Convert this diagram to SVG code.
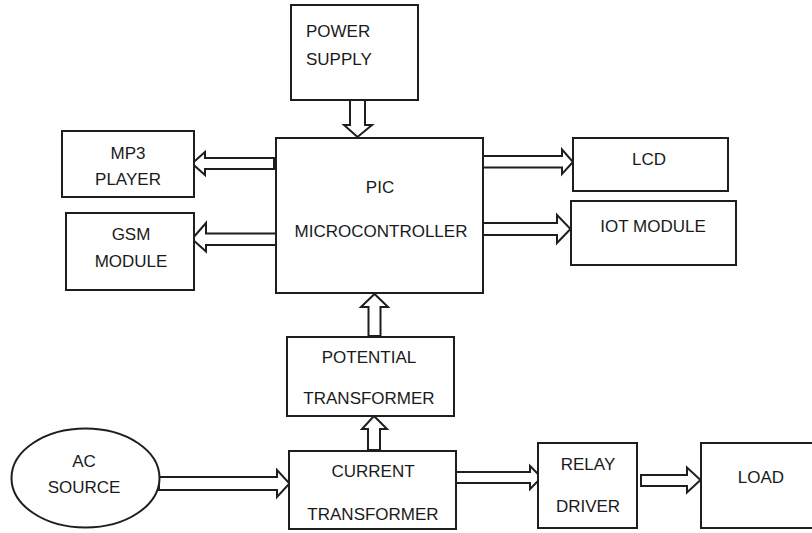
<svg xmlns="http://www.w3.org/2000/svg" width="812" height="533" viewBox="0 0 812 533">
  <style>
    .box { fill: #ffffff; stroke: #1e1e1e; stroke-width: 2; }
    .arrow { fill: #ffffff; stroke: #1e1e1e; stroke-width: 2; stroke-linejoin: miter; }
    text { font-family: "Liberation Sans", Arial, sans-serif; font-size: 17px; fill: #1a1a1a; }
    .c { text-anchor: middle; }
  </style>
  <rect width="812" height="533" fill="#ffffff"/>

  <!-- connectors: hollow block arrows -->
  <g id="connectors">
    <!-- power supply -> PIC -->
    <polygon class="arrow" points="350,100 365,100 365,125 372,125 357.5,137 344,125 350,125"/>
    <!-- PIC -> MP3 player -->
    <polygon class="arrow" points="274,158 205,158 205,152 192,163.5 205,175 205,169 274,169"/>
    <!-- PIC -> GSM module -->
    <polygon class="arrow" points="276,233.5 206,233.5 206,223 192,239 206,251.5 206,245 276,245"/>
    <!-- PIC -> LCD -->
    <polygon class="arrow" points="483,156 562,156 562,149.5 573,162 562,174 562,167.5 483,167.5"/>
    <!-- PIC -> IOT module -->
    <polygon class="arrow" points="483,223 557,223 557,215 570.5,229 557,243 557,235 483,235"/>
    <!-- potential transformer -> PIC -->
    <polygon class="arrow" points="368.5,336 368.5,307 361,307 374.5,294 388,307 380.5,307 380.5,336"/>
    <!-- current transformer -> potential transformer -->
    <polygon class="arrow" points="368,450 368,429 362,429 374,416 387,429 380,429 380,450"/>
    <!-- AC source -> current transformer -->
    <polygon class="arrow" points="159,477 277,477 277,470 289.5,483.5 277,497 277,490 159,490"/>
    <!-- current transformer -> relay driver -->
    <polygon class="arrow" points="456,472 530,472 530,466 541.5,477.5 530,489 530,483 456,483"/>
    <!-- relay driver -> load -->
    <polygon class="arrow" points="641,475 687,475 687,467.5 700.5,480 687,492.5 687,486 641,486"/>
  </g>

  <g id="power-supply">
    <rect class="box" x="291" y="5" width="127" height="95"/>
    <text x="306" y="37">POWER</text>
    <text x="306" y="65">SUPPLY</text>
  </g>

  <g id="pic-microcontroller">
    <rect class="box" x="276" y="138" width="207" height="155"/>
    <text class="c" x="380" y="193">PIC</text>
    <text class="c" x="381" y="237">MICROCONTROLLER</text>
  </g>

  <g id="mp3-player">
    <rect class="box" x="62" y="131" width="132" height="66"/>
    <text class="c" x="128" y="159">MP3</text>
    <text class="c" x="128" y="185">PLAYER</text>
  </g>

  <g id="gsm-module">
    <rect class="box" x="66" y="213" width="128" height="77"/>
    <text class="c" x="131" y="240">GSM</text>
    <text class="c" x="131" y="267">MODULE</text>
  </g>

  <g id="lcd">
    <rect class="box" x="573" y="138" width="155" height="53"/>
    <text class="c" x="649" y="165">LCD</text>
  </g>

  <g id="iot-module">
    <rect class="box" x="571" y="201" width="165" height="64"/>
    <text class="c" x="653" y="232">IOT MODULE</text>
  </g>

  <g id="potential-transformer">
    <rect class="box" x="287" y="337" width="167" height="79"/>
    <text class="c" x="369" y="363">POTENTIAL</text>
    <text class="c" x="369" y="404">TRANSFORMER</text>
  </g>

  <g id="ac-source">
    <ellipse class="box" cx="85.5" cy="478" rx="74" ry="49.5"/>
    <text class="c" x="84" y="467">AC</text>
    <text class="c" x="84" y="493">SOURCE</text>
  </g>

  <g id="current-transformer">
    <rect class="box" x="289" y="451" width="167" height="78"/>
    <text class="c" x="373" y="477">CURRENT</text>
    <text class="c" x="373" y="520">TRANSFORMER</text>
  </g>

  <g id="relay-driver">
    <rect class="box" x="538" y="443" width="99" height="85"/>
    <text class="c" x="588" y="470">RELAY</text>
    <text class="c" x="588" y="512">DRIVER</text>
  </g>

  <g id="load">
    <rect class="box" x="701" y="443" width="120" height="85"/>
    <text class="c" x="761" y="483">LOAD</text>
  </g>
</svg>
